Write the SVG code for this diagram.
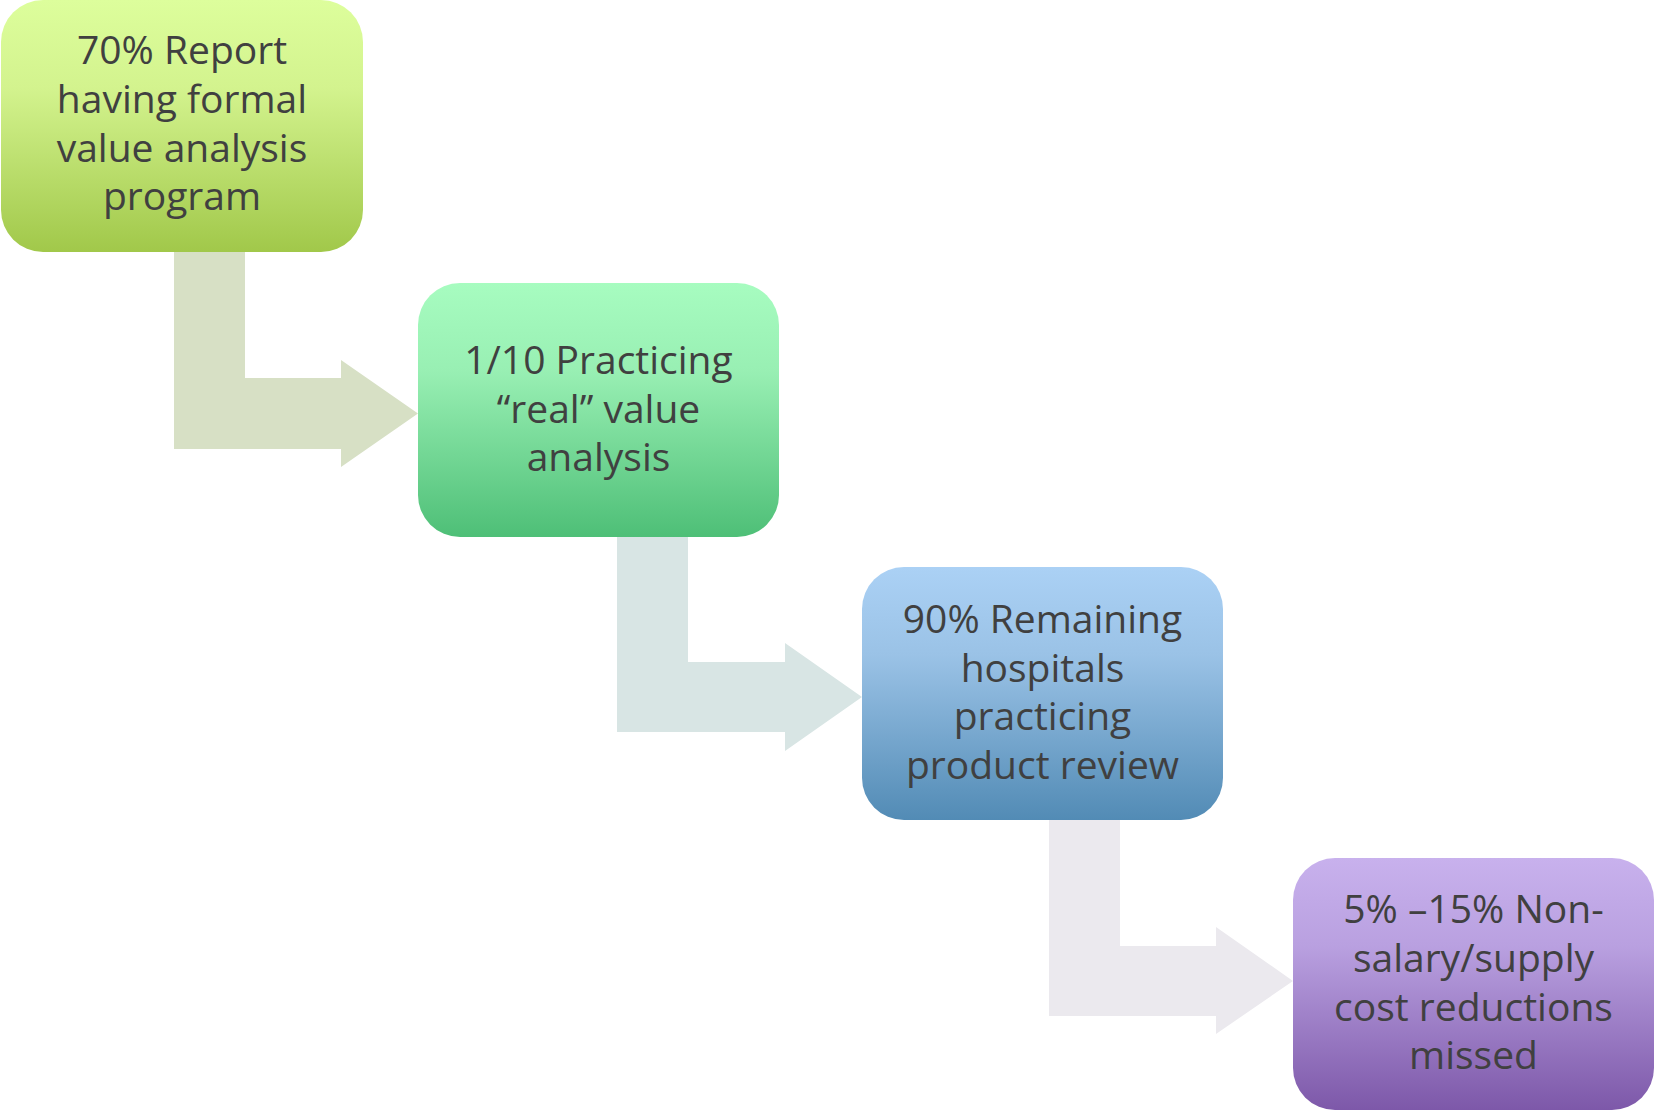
<svg xmlns="http://www.w3.org/2000/svg" width="1654" height="1112" viewBox="0 0 1654 1112">
  <defs>
    <linearGradient id="gGreenLime" x1="0" y1="0" x2="0" y2="1">
      <stop offset="0" stop-color="#ddfe9c"/>
      <stop offset="0.35" stop-color="#d3f38e"/>
      <stop offset="1" stop-color="#a1c84a"/>
    </linearGradient>
    <linearGradient id="gGreen" x1="0" y1="0" x2="0" y2="1">
      <stop offset="0" stop-color="#a7fcc0"/>
      <stop offset="0.35" stop-color="#98efb3"/>
      <stop offset="1" stop-color="#4ebf77"/>
    </linearGradient>
    <linearGradient id="gBlue" x1="0" y1="0" x2="0" y2="1">
      <stop offset="0" stop-color="#abd1f5"/>
      <stop offset="0.35" stop-color="#9ac2e6"/>
      <stop offset="1" stop-color="#528bb5"/>
    </linearGradient>
    <linearGradient id="gPurple" x1="0" y1="0" x2="0" y2="1">
      <stop offset="0" stop-color="#c8b1ed"/>
      <stop offset="0.35" stop-color="#b9a0e0"/>
      <stop offset="1" stop-color="#7d58a9"/>
    </linearGradient>
  </defs>
  <style>
    .box { stroke: none; }
    .label { font-family: "Open Sans", "Noto Sans", "Liberation Sans", sans-serif; font-size: 39px; fill: #404040; text-anchor: middle; }
  </style>

  <rect width="1654" height="1112" fill="#ffffff"/>

  <!-- bent arrows linking each step to the next -->
  <g id="connectors">
    <path id="arrow-1-2" fill="#d7e0c5" d="M174,240 L245,240 L245,378 L341,378 L341,360 L418,413.5 L341,467 L341,449 L174,449 Z"/>
    <path id="arrow-2-3" fill="#d8e5e4" d="M617,525 L688,525 L688,662 L785,662 L785,643 L862,697 L785,751 L785,732 L617,732 Z"/>
    <path id="arrow-3-4" fill="#ebe9ee" d="M1049,808 L1120,808 L1120,946 L1216,946 L1216,927 L1293,981 L1216,1034 L1216,1016 L1049,1016 Z"/>
  </g>

  <g id="step-1">
    <rect class="box" x="1" y="0" width="362" height="252" rx="42" ry="42" fill="url(#gGreenLime)"/>
    <text class="label" x="182" y="64">70% Report</text>
    <text class="label" x="182" y="113">having formal</text>
    <text class="label" x="182" y="162">value analysis</text>
    <text class="label" x="182" y="210">program</text>
  </g>

  <g id="step-2">
    <rect class="box" x="418" y="283" width="361" height="254" rx="42" ry="42" fill="url(#gGreen)"/>
    <text class="label" x="598.5" y="374">1/10 Practicing</text>
    <text class="label" x="598.5" y="423">“real” value</text>
    <text class="label" x="598.5" y="471">analysis</text>
  </g>

  <g id="step-3">
    <rect class="box" x="862" y="567" width="361" height="253" rx="42" ry="42" fill="url(#gBlue)"/>
    <text class="label" x="1042.5" y="633">90% Remaining</text>
    <text class="label" x="1042.5" y="682">hospitals</text>
    <text class="label" x="1042.5" y="730">practicing</text>
    <text class="label" x="1042.5" y="779">product review</text>
  </g>

  <g id="step-4">
    <rect class="box" x="1293" y="858" width="361" height="252" rx="42" ry="42" fill="url(#gPurple)"/>
    <text class="label" x="1473.5" y="923">5% –15% Non-</text>
    <text class="label" x="1473.5" y="972">salary/supply</text>
    <text class="label" x="1473.5" y="1021">cost reductions</text>
    <text class="label" x="1473.5" y="1069">missed</text>
  </g>
</svg>
